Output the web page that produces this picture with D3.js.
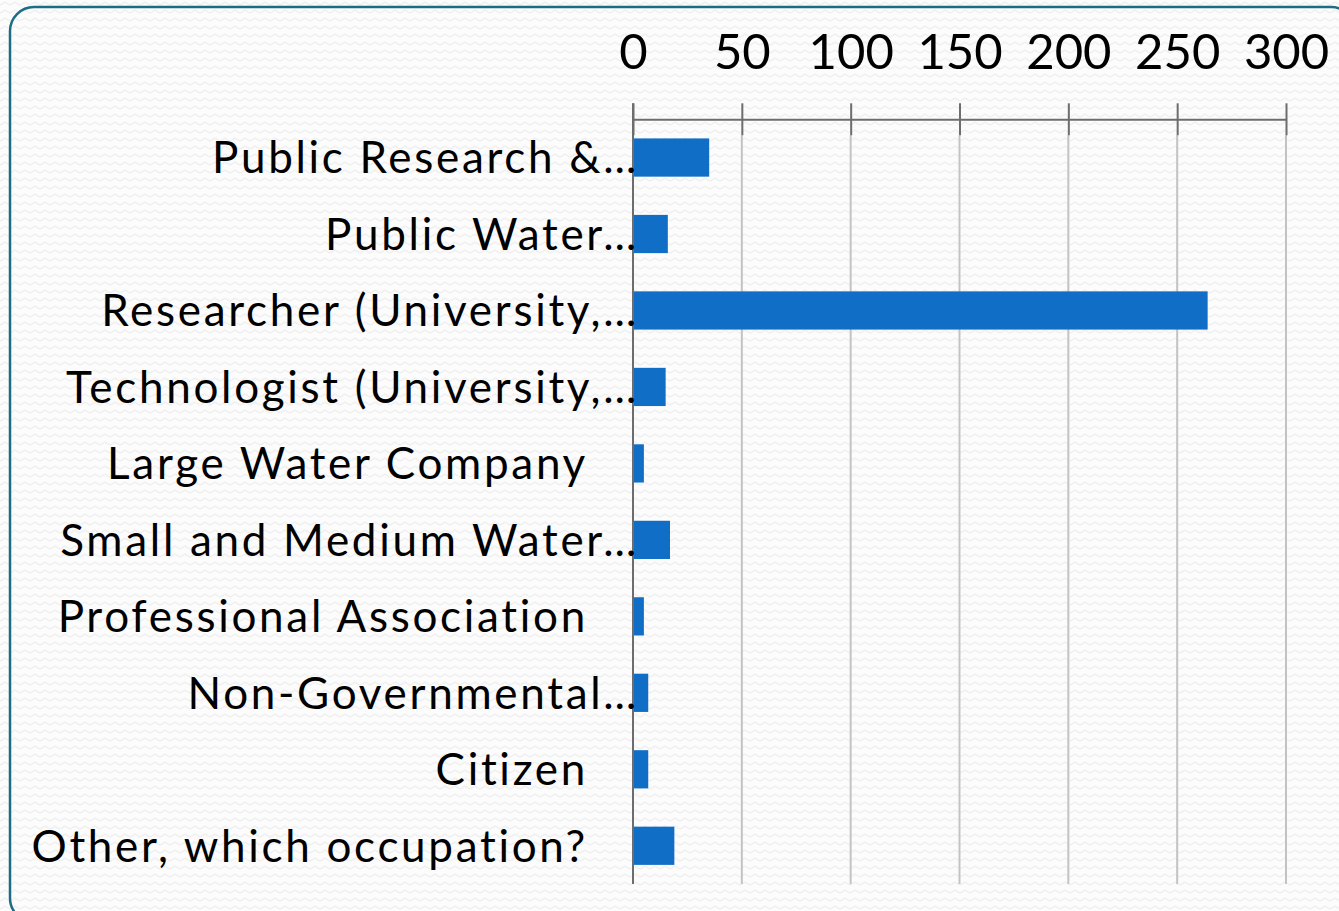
<!DOCTYPE html>
<html>
<head>
<meta charset="utf-8">
<script src="https://cdn.jsdelivr.net/npm/d3@7"></script>
<style>
  body { margin: 0; background: #fbfbfb; }
  svg { display: block; }
</style>
</head>
<body>
<script>
// chart data
var categories = [
    "Public Research &\u2026",
    "Public Water\u2026",
    "Researcher (University,\u2026",
    "Technologist (University,\u2026",
    "Large Water Company",
    "Small and Medium Water\u2026",
    "Professional Association",
    "Non-Governmental\u2026",
    "Citizen",
    "Other, which occupation?"
];
var values = [35, 16, 264, 15, 5, 17, 5, 7, 7, 19];
var tickValues = [0, 50, 100, 150, 200, 250, 300];

var width = 1339,
    height = 911;

var svg = d3.select("body").append("svg")
    .attr("width", width)
    .attr("height", height);

// subtle zigzag background texture
var defs = svg.append("defs");
var pat = defs.append("pattern")
    .attr("id", "bgPattern")
    .attr("patternUnits", "userSpaceOnUse")
    .attr("width", 10)
    .attr("height", 8);
pat.append("rect")
    .attr("width", 10).attr("height", 8)
    .style("fill", "#fcfcfc");
pat.append("path")
    .attr("d", "M0,5 L5,2 L10,5")
    .style("fill", "none")
    .style("stroke", "#f0f0f0")
    .style("stroke-width", 1.5);

svg.append("rect")
    .attr("width", width)
    .attr("height", height)
    .style("fill", "url(#bgPattern)");

// rounded frame
svg.append("rect")
    .attr("x", 10)
    .attr("y", 7)
    .attr("width", 1345)
    .attr("height", 915)
    .attr("rx", 24)
    .style("fill", "none")
    .style("stroke", "#1b6d84")
    .style("stroke-width", 2.5);

// scales
var axisY = 119.3,
    plotBottom = 884;

var x = d3.scaleLinear()
    .domain([0, 300])
    .range([633, 1286]);

var y = d3.scaleBand()
    .domain(categories)
    .range([axisY, plotBottom])
    .paddingInner(0.5)
    .paddingOuter(0.25);

// gridlines
svg.append("g")
    .attr("class", "grid")
    .selectAll("line")
    .data(tickValues)
    .enter().append("line")
    .attr("x1", function(d) { return x(d); })
    .attr("x2", function(d) { return x(d); })
    .attr("y1", axisY + 16)
    .attr("y2", plotBottom)
    .style("stroke", "#c3c3c3")
    .style("stroke-width", 2);

// bars
svg.append("g")
    .attr("class", "bars")
    .selectAll("rect")
    .data(values)
    .enter().append("rect")
    .attr("x", x(0))
    .attr("y", function(d, i) { return y(categories[i]); })
    .attr("width", function(d) { return x(d) - x(0); })
    .attr("height", y.bandwidth())
    .style("fill", "#116ec6");

// value axis on top
var xAxis = svg.append("g")
    .attr("transform", "translate(0," + axisY + ")")
    .call(d3.axisTop(x)
        .tickValues(tickValues)
        .tickSizeInner(16)
        .tickSizeOuter(0)
        .tickPadding(34));

xAxis.select(".domain")
    .style("stroke", "#6d6d6d")
    .style("stroke-width", 2);
xAxis.selectAll(".tick line")
    .attr("y1", 16)
    .attr("y2", -16)
    .style("stroke", "#6d6d6d")
    .style("stroke-width", 2);
xAxis.selectAll(".tick text")
    .style("font-family", "Lato, 'Open Sans', sans-serif")
    .style("font-size", "49px")
    .style("fill", "#000");

// category axis line
svg.append("line")
    .attr("x1", x(0))
    .attr("x2", x(0))
    .attr("y1", axisY - 16)
    .attr("y2", plotBottom)
    .style("stroke", "#6d6d6d")
    .style("stroke-width", 2);

// category labels
svg.append("g")
    .attr("class", "labels")
    .selectAll("text")
    .data(categories)
    .enter().append("text")
    .attr("x", function(d) { return d.slice(-1) === "\u2026" ? 639 : 588; })
    .attr("y", function(d) { return y(d) + y.bandwidth() / 2; })
    .attr("dy", "0.36em")
    .attr("text-anchor", "end")
    .style("font-family", "Lato, 'Open Sans', sans-serif")
    .style("font-size", "44px")
    .style("letter-spacing", "2.7px")
    .style("fill", "#000")
    .text(function(d) { return d; });
</script>
</body>
</html>
